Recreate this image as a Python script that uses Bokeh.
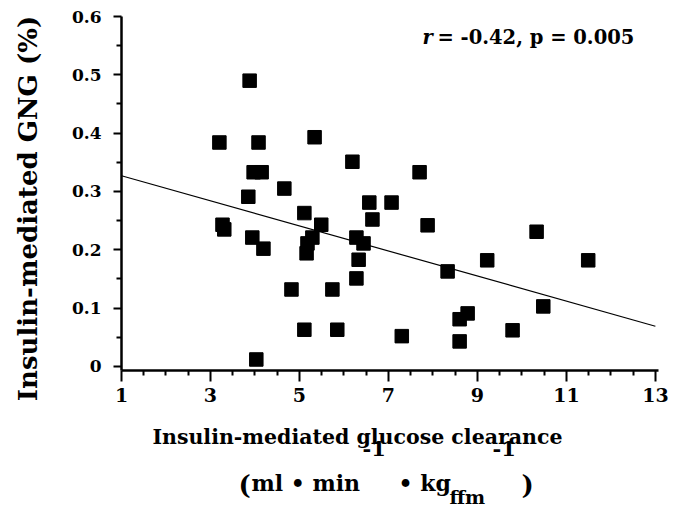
import numpy as np
from math import pi
from bokeh.plotting import figure
from bokeh.layouts import column
from bokeh.models import Range1d, FixedTicker, CustomJSTickFormatter, Label, ColumnDataSource
from bokeh.embed import file_html
from bokeh.resources import INLINE

# ---- data ----
clearance = [3.88, 3.20, 4.08, 5.34, 6.19, 3.97, 4.15, 4.66, 3.85, 6.57, 7.07,
             5.11, 3.27, 3.31, 5.49, 6.64, 3.94, 4.19, 5.29, 5.18, 5.16, 6.28,
             6.44, 6.33, 6.28, 4.82, 5.74, 5.11, 5.85, 4.03, 7.30, 7.70, 7.88,
             10.33, 9.22, 11.49, 8.33, 8.78, 8.60, 10.48, 9.79, 8.60]
gng = [0.490, 0.384, 0.384, 0.393, 0.351, 0.333, 0.333, 0.305, 0.291, 0.281, 0.281,
       0.263, 0.243, 0.235, 0.243, 0.252, 0.221, 0.202, 0.221, 0.211, 0.194, 0.221,
       0.211, 0.183, 0.151, 0.132, 0.132, 0.063, 0.063, 0.012, 0.052, 0.333, 0.242,
       0.231, 0.182, 0.182, 0.163, 0.091, 0.081, 0.103, 0.062, 0.043]
fit_x = [1, 13]
fit_y = [0.327, 0.069]

x_ticks = [1, 3, 5, 7, 9, 11, 13]
x_minor = [1.5, 2, 2.5, 3.5, 4, 4.5, 5.5, 6, 6.5, 7.5, 8, 8.5, 9.5, 10, 10.5, 11.5, 12, 12.5]
y_ticks = [0, 0.1, 0.2, 0.3, 0.4, 0.5, 0.6]
y_minor = [0.05, 0.15, 0.25, 0.35, 0.45, 0.55]

y_label = "Insulin-mediated GNG (%)"
x_label = "Insulin-mediated glucose clearance"
stat_r = "r"
stat_rest = "= -0.42, p = 0.005"

FONT = "DejaVu Serif"
W = 674
H_MAIN = 414
H_LAB = 92

# page pixel -> data helpers for text placement
def dx(px):
    return 1 + (px - 121) / 44.5

def dy(py):
    return (366 - py) / 583.3

p = figure(width=W, height=H_MAIN,
           x_range=Range1d(1, 13.07), y_range=Range1d(-0.0069, 0.6),
           output_backend="svg", toolbar_location=None,
           min_border_left=121, min_border_right=16,
           min_border_top=16, min_border_bottom=H_MAIN - 370)
p.grid.visible = False
p.outline_line_color = None

# axes
xa = p.xaxis[0]
xa.ticker = FixedTicker(ticks=x_ticks, minor_ticks=x_minor)
xa.axis_line_width = 2.5
xa.major_tick_out = 11
xa.major_tick_in = 0
xa.minor_tick_out = 5
xa.minor_tick_in = 0
xa.major_tick_line_width = 2
xa.minor_tick_line_width = 2
xa.major_label_text_font = FONT
xa.major_label_text_font_style = "bold"
xa.major_label_text_font_size = "19px"
xa.major_label_text_color = "black"
xa.major_label_standoff = 6

ya = p.yaxis[0]
ya.ticker = FixedTicker(ticks=y_ticks, minor_ticks=y_minor)
ya.formatter = CustomJSTickFormatter(code="return tick == 0 ? '0' : tick.toFixed(1);")
ya.axis_line_width = 2.5
ya.major_tick_out = 8
ya.major_tick_in = 0
ya.minor_tick_out = 5
ya.minor_tick_in = 0
ya.major_tick_line_width = 2
ya.minor_tick_line_width = 2
ya.major_label_text_font = FONT
ya.major_label_text_font_style = "bold"
ya.major_label_text_font_size = "17px"
ya.major_label_text_color = "black"
ya.major_label_standoff = 12

# glyphs
src = ColumnDataSource(dict(x=clearance, y=gng))
p.line(fit_x, fit_y, line_color="black", line_width=1.2)
p.scatter("x", "y", source=src, marker="square", size=13.5,
          fill_color="black", line_color="black")

def mk(fig, text, x, y, size, align="left", baseline="alphabetic", style="bold",
       angle=0, place="center"):
    fig.add_layout(Label(x=x, y=y, text=text, text_font=FONT,
                         text_font_style=style, text_font_size=size,
                         text_align=align, text_baseline=baseline, angle=angle,
                         text_color="black"), place)

# stats (inside frame)
mk(p, stat_r, dx(422), dy(37), "19.5px", style="bold italic")
mk(p, stat_rest, dx(437), dy(37), "19.5px")

# y label (left side panel)
mk(p, y_label, dx(27), dy(208), "26px", align="center", baseline="middle",
   angle=pi / 2, place="left")

# ---- x-axis title area: text-only figure sharing the x range; y units = page pixels ----
q = figure(width=W, height=H_LAB,
           x_range=p.x_range, y_range=Range1d(H_MAIN + H_LAB, H_MAIN),
           output_backend="svg", toolbar_location=None,
           x_axis_type=None, y_axis_type=None,
           min_border_left=121, min_border_right=16, min_border_top=0, min_border_bottom=0)
q.grid.visible = False
q.outline_line_color = None

mk(q, x_label, dx(357), 436, "20.5px", align="center")
mk(q, "(", dx(238), 484, "26px")
mk(q, "ml \u2022 min", dx(251), 482, "22px")
mk(q, "-1", dx(362), 448, "21px")
mk(q, "\u2022 kg", dx(398), 482, "22px")
mk(q, "ffm", dx(449), 496, "19px")
mk(q, "-1", dx(492), 448, "21px")
mk(q, ")", dx(521), 484, "26px")

layout = column(p, q, spacing=0)
open("out.html", "w").write(file_html(layout, INLINE))
